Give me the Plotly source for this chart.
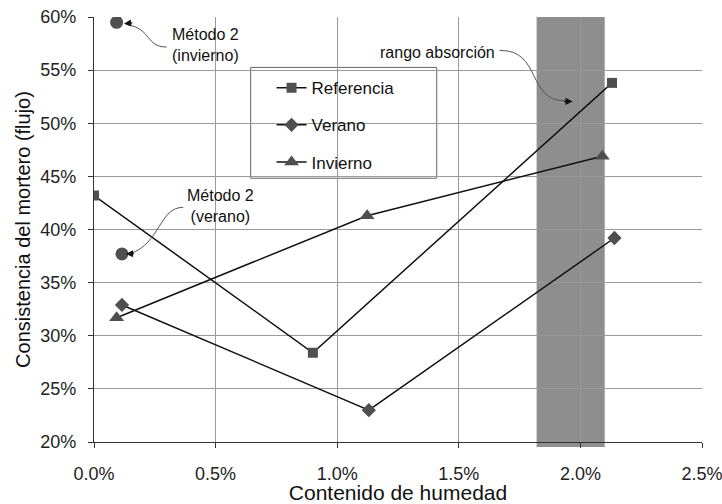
import plotly.graph_objects as go

# ---- data (fractions; axes formatted as %) ----
ref_x = [0.0000, 0.0090, 0.0213]
ref_y = [0.432, 0.284, 0.538]
ver_x = [0.00115, 0.0113, 0.0214]
ver_y = [0.329, 0.230, 0.392]
inv_x = [0.00093, 0.01123, 0.0209]
inv_y = [0.317, 0.413, 0.469]
m2_inv_x = [0.00093]
m2_inv_y = [0.595]
m2_ver_x = [0.00115]
m2_ver_y = [0.377]
band_x = [0.0182, 0.0210]

FONT = "Liberation Sans, Arial, sans-serif"
MK = "#4f4f4f"

fig = go.Figure()

def series(x, y, name, symbol, size, group):
    fig.add_trace(go.Scatter(
        x=x, y=y, name=name, mode="lines+markers", legendgroup=group,
        line=dict(color="#111111", width=1.5),
        marker=dict(symbol=symbol, size=size, color=MK, line=dict(width=0)),
    ))

series(ref_x, ref_y, "Referencia", "square", 10, "a")
series(ver_x, ver_y, "Verano", "diamond", 11, "b")
series(inv_x, inv_y, "Invierno", "triangle-up", 13, "c")

for xs, ys in [(m2_inv_x, m2_inv_y), (m2_ver_x, m2_ver_y)]:
    fig.add_trace(go.Scatter(x=xs, y=ys, mode="markers", showlegend=False,
                             marker=dict(symbol="circle", size=13, color=MK)))

shapes = [
    # absorption band
    dict(type="rect", xref="x", yref="paper", x0=band_x[0], x1=band_x[1],
         y0=-0.012, y1=1.0, fillcolor="#8e8e8e", line=dict(width=0), layer="below"),
    dict(type="line", xref="x", yref="paper", x0=0.02, x1=0.02, y0=0, y1=1,
         line=dict(color="#5a5a5a", width=1), layer="below"),
    # legend box
    dict(type="rect", xref="paper", yref="paper", x0=0.2577, x1=0.5637,
         y0=0.6206, y1=0.8814, fillcolor="white",
         line=dict(color="#666666", width=1), layer="below"),
    # curved callout lines
    dict(type="path", xref="x", yref="y",
         path="M 0.00299,0.5717 C 0.0021,0.572 0.0024,0.5885 0.00135,0.5930",
         line=dict(color="#555555", width=1)),
    dict(type="path", xref="x", yref="y",
         path="M 0.00367,0.4208 C 0.0027,0.4215 0.0027,0.386 0.00150,0.3775",
         line=dict(color="#555555", width=1)),
    dict(type="path", xref="x", yref="y",
         path="M 0.01668,0.5685 C 0.0184,0.5695 0.0178,0.521 0.01935,0.5212",
         line=dict(color="#555555", width=1)),
]

ann_font = dict(family=FONT, size=16, color="#111111")
annotations = [
    dict(x=0.00458, y=0.5739, xref="x", yref="y", text="Método 2<br>(invierno)",
         showarrow=False, font=ann_font),
    dict(x=0.0052, y=0.422, xref="x", yref="y", text="Método 2<br>(verano)",
         showarrow=False, font=ann_font),
    dict(x=0.01413, y=0.567, xref="x", yref="y", text="rango absorción",
         showarrow=False, font=ann_font),
    # arrowheads
    dict(x=0.00123, y=0.5937, xref="x", yref="y", text="", showarrow=True,
         arrowhead=2, arrowsize=1.2, arrowwidth=1.2, arrowcolor="#111111", ax=10, ay=-1),
    dict(x=0.00131, y=0.3772, xref="x", yref="y", text="", showarrow=True,
         arrowhead=2, arrowsize=1.2, arrowwidth=1.2, arrowcolor="#111111", ax=10, ay=0),
    dict(x=0.01968, y=0.5205, xref="x", yref="y", text="", showarrow=True,
         arrowhead=2, arrowsize=1.2, arrowwidth=1.2, arrowcolor="#111111", ax=-10, ay=0),
]

fig.update_layout(
    width=722, height=504,
    margin=dict(l=94, r=20, t=17, b=62, autoexpand=False),
    paper_bgcolor="white", plot_bgcolor="white",
    font=dict(family=FONT, color="#111111"),
    shapes=shapes, annotations=annotations,
    showlegend=True,
    legend=dict(x=0.292, y=0.875, xanchor="left", yanchor="top",
                bgcolor="rgba(0,0,0,0)", borderwidth=0,
                font=dict(family=FONT, size=17, color="#111111"),
                traceorder="grouped", tracegroupgap=12, itemwidth=30),
    xaxis=dict(range=[0, 0.025], tickvals=[0, 0.005, 0.01, 0.015, 0.02, 0.025],
               tickformat=".1%", showgrid=True, gridcolor="#9a9a9a", gridwidth=1,
               showline=True, linecolor="#333333", linewidth=1.2,
               ticks="outside", ticklen=5, tickcolor="#333333",
               tickfont=dict(family=FONT, size=18, color="#222222"),
               ticklabelstandoff=10, ticklabeloverflow="allow",
               zeroline=False, automargin=False,
               title=dict(text="Contenido de humedad", standoff=0,
                          font=dict(family=FONT, size=21, color="#111111"))),
    yaxis=dict(range=[0.2, 0.6], tickvals=[0.2, 0.25, 0.3, 0.35, 0.4, 0.45, 0.5, 0.55, 0.6],
               tickformat=".0%", showgrid=True, gridcolor="#9a9a9a", gridwidth=1,
               showline=True, linecolor="#333333", linewidth=1.2,
               ticks="outside", ticklen=5, tickcolor="#333333",
               tickfont=dict(family=FONT, size=18, color="#222222"),
               ticklabelstandoff=8, ticklabeloverflow="allow",
               zeroline=False, automargin=False,
               title=dict(text="Consistencia del mortero (flujo)", standoff=4,
                          font=dict(family=FONT, size=20, color="#111111"))),
)

fig.write_html("out.html", config={"displayModeBar": False},
               post_script="document.body.style.margin='0px';")
